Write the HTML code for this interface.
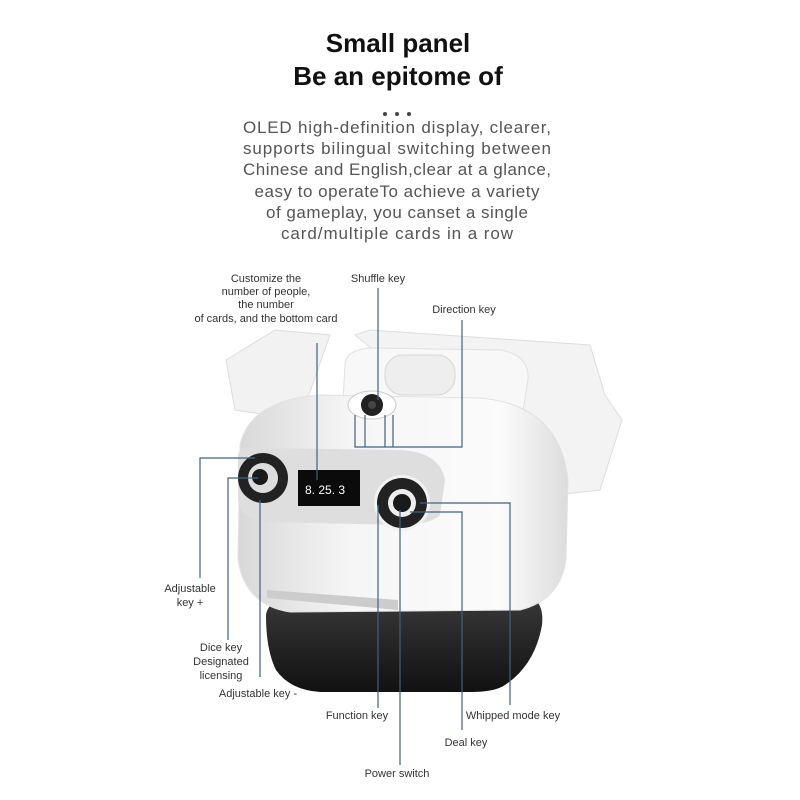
<!DOCTYPE html>
<html><head><meta charset="utf-8"><style>
html,body{margin:0;padding:0;background:#fff}
svg{display:block}
.t{font-family:"Liberation Sans",sans-serif}
</style></head><body>
<svg width="800" height="800" viewBox="0 0 800 800" xmlns="http://www.w3.org/2000/svg">
<defs>
<linearGradient id="body" x1="0" y1="0" x2="1" y2="0">
<stop offset="0" stop-color="#d8d8d8"/><stop offset="0.35" stop-color="#f6f6f6"/><stop offset="0.8" stop-color="#fbfbfb"/><stop offset="1" stop-color="#dcdcdc"/>
</linearGradient>
<linearGradient id="base" x1="0" y1="0" x2="0" y2="1">
<stop offset="0" stop-color="#3a3a3a"/><stop offset="1" stop-color="#111"/>
</linearGradient>
</defs>
<rect width="800" height="800" fill="#fff"/>
<g class="t" text-anchor="middle">
<text x="398" y="52" font-size="26" font-weight="bold" fill="#111">Small panel</text>
<text x="398" y="85" font-size="26" font-weight="bold" fill="#111">Be an epitome of</text>
<text x="397" y="133" font-size="17" fill="#555" textLength="308">OLED high-definition display, clearer,</text>
<text x="397" y="154" font-size="17" fill="#555" textLength="308">supports bilingual switching between</text>
<text x="397" y="175" font-size="17" fill="#555" textLength="308">Chinese and English,clear at a glance,</text>
<text x="397" y="197" font-size="17" fill="#555" textLength="285">easy to operateTo achieve a variety</text>
<text x="397" y="218" font-size="17" fill="#555" textLength="262">of gameplay, you canset a single</text>
<text x="397" y="239" font-size="17" fill="#555" textLength="232">card/multiple cards in a row</text>
</g>
<circle cx="385" cy="114" r="2" fill="#444"/><circle cx="397" cy="114" r="2" fill="#444"/><circle cx="409" cy="114" r="2" fill="#444"/>

<!-- base -->
<path d="M266 615 Q268 598 300 596 L520 594 Q545 596 542 625 Q535 665 505 685 Q495 692 470 692 L320 692 Q290 690 276 670 Q266 650 266 615 Z" fill="url(#base)"/>
<!-- back tray left -->
<path d="M226 360 L275 330 L330 335 L300 420 L235 410 Z" fill="#f2f2f2" stroke="#ddd"/>
<!-- right tray -->
<path d="M355 335 L370 330 L590 345 L605 395 L622 420 L600 490 L510 500 L490 450 L460 420 Z" fill="#f3f3f3" stroke="#ddd"/>
<path d="M480 440 L540 430 L560 470 L500 475 Z" fill="#999" opacity="0.5"/>
<!-- top block -->
<path d="M345 365 Q345 350 370 348 L500 350 Q530 355 528 380 L520 430 Q510 450 480 450 L370 445 Q340 440 342 420 Z" fill="#f8f8f8" stroke="#e0e0e0"/>
<rect x="385" y="355" width="70" height="40" rx="18" fill="#eee" stroke="#d6d6d6"/>
<!-- main body -->
<path d="M240 445 Q250 400 320 395 L480 398 Q560 405 568 480 L566 560 Q560 600 520 610 L290 612 Q245 605 238 560 Z" fill="url(#body)" stroke="#e2e2e2"/>
<!-- panel band -->
<path d="M238 455 Q240 445 260 448 L400 450 Q440 452 445 480 L440 515 Q430 525 400 525 L270 522 Q240 520 238 500 Z" fill="#dedede"/>
<!-- top pad -->
<ellipse cx="372" cy="405" rx="24" ry="14" fill="#fff" stroke="#ccc"/>
<circle cx="372" cy="405" r="11" fill="#222"/>
<circle cx="372" cy="405" r="4" fill="#444"/>
<!-- left buttons -->
<circle cx="263" cy="478" r="25" fill="#222"/>
<circle cx="263" cy="478" r="15" fill="#ddd"/>
<circle cx="260" cy="477" r="8" fill="#1a1a1a"/>
<!-- screen -->
<rect x="298" y="470" width="62" height="36" fill="#0b0b0b"/>
<text x="305" y="494" class="t" font-size="12" fill="#fff">8. 25. 3</text>
<!-- right buttons -->
<circle cx="402" cy="503" r="28" fill="#f2f2f2"/>
<circle cx="402" cy="503" r="25" fill="#222"/>
<circle cx="402" cy="503" r="14" fill="#eee"/>
<circle cx="402" cy="503" r="9" fill="#1a1a1a"/>
<!-- slot -->
<path d="M267 590 L398 600 L398 610 L267 598 Z" fill="#ccc"/>

<!-- leader lines -->
<g stroke="#3f6282" stroke-width="1.2" fill="none">
<path d="M317 343 V480"/>
<path d="M378 288 V400"/>
<path d="M462 320 V447 H355 V415 M365 447 V415 M385 447 V415 M393 447 V415"/>
<path d="M200 578 V458 H255"/>
<path d="M228 640 V478 H258"/>
<path d="M260 677 V500"/>
<path d="M378 708 V505"/>
<path d="M400 765 V510"/>
<path d="M462 730 V512 H410"/>
<path d="M510 705 V503 H420"/>
</g>

<g class="t" font-size="11" fill="#333" text-anchor="middle">
<text x="266" y="282">Customize the</text>
<text x="266" y="295">number of people,</text>
<text x="266" y="308">the number</text>
<text x="266" y="322">of cards, and the bottom card</text>
<text x="378" y="282">Shuffle key</text>
<text x="464" y="313">Direction key</text>
<text x="190" y="592">Adjustable</text>
<text x="190" y="606">key +</text>
<text x="221" y="651">Dice key</text>
<text x="221" y="665">Designated</text>
<text x="221" y="679">licensing</text>
<text x="258" y="697">Adjustable key -</text>
<text x="357" y="719">Function key</text>
<text x="513" y="719">Whipped mode key</text>
<text x="466" y="746">Deal key</text>
<text x="397" y="777">Power switch</text>
</g>
</svg>
</body></html>
